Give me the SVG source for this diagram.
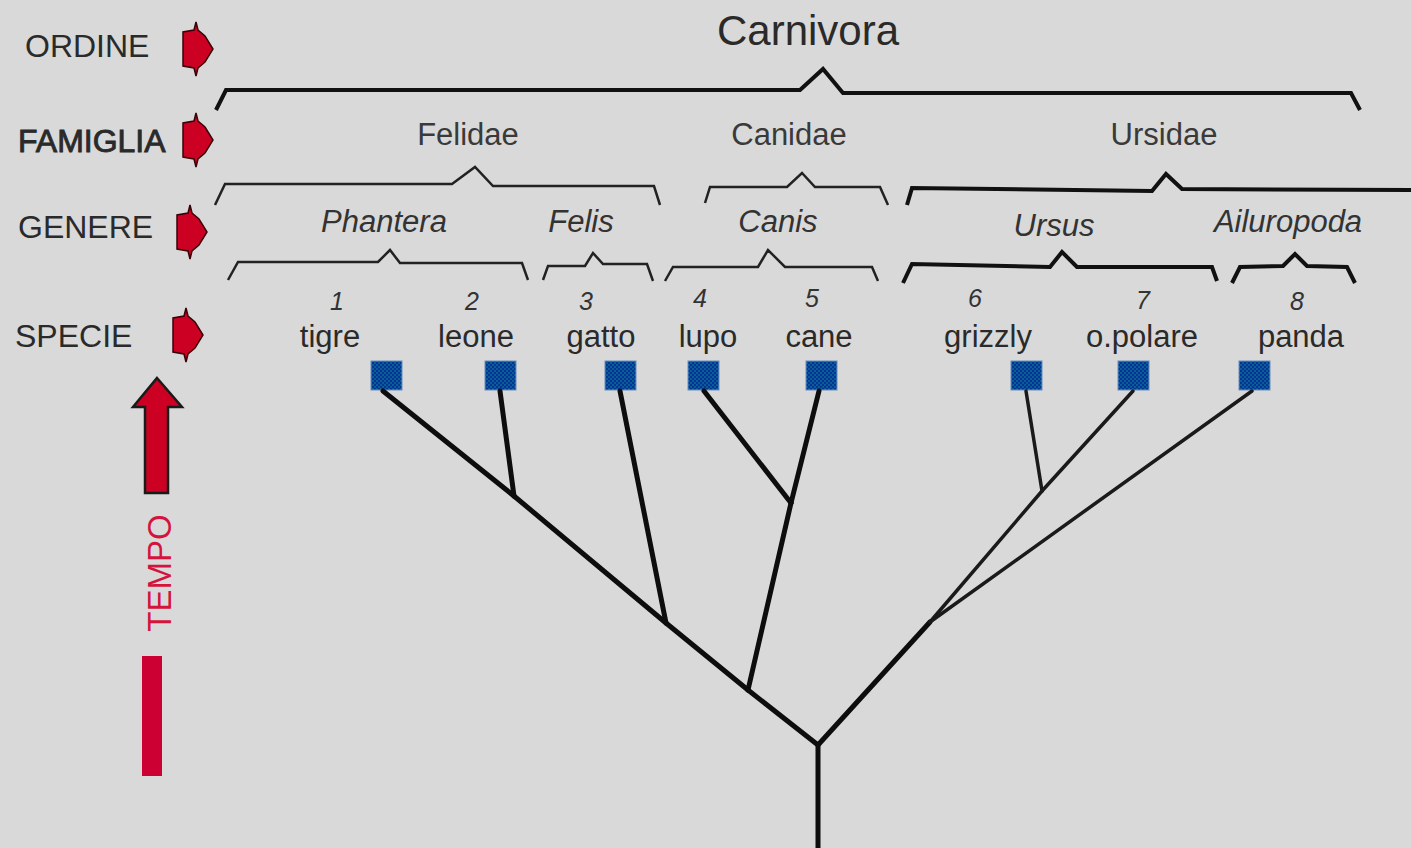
<svg xmlns="http://www.w3.org/2000/svg" width="1411" height="848" viewBox="0 0 1411 848">
<defs>
<style>
.lbl{font-family:"Liberation Sans",Arial,sans-serif;font-size:32px;fill:#2a2a2a}
.top{font-family:"Liberation Sans",Arial,sans-serif;font-size:42px;fill:#2a2a2a;text-anchor:middle}
.fam{font-family:"Liberation Sans",Arial,sans-serif;font-size:31px;fill:#3a3a3a;text-anchor:middle}
.gen{font-family:"Liberation Sans",Arial,sans-serif;font-size:31px;font-style:italic;fill:#333;text-anchor:middle}
.num{font-family:"Liberation Sans",Arial,sans-serif;font-size:25px;font-style:italic;fill:#333;text-anchor:middle}
.sp{font-family:"Liberation Sans",Arial,sans-serif;font-size:31px;fill:#2a2a2a;text-anchor:middle}
.br{fill:none;stroke:#222;stroke-width:2.5;stroke-linejoin:miter}
.brk{fill:none;stroke:#111;stroke-width:4;stroke-linejoin:miter}
.edge{fill:none;stroke:#0d0d0d;stroke-width:5;stroke-linecap:round}
.edge2{fill:none;stroke:#1a1a1a;stroke-width:3.5;stroke-linecap:round}
.mk{fill:#cc0022;stroke:#3a0008;stroke-width:1.5}
.leaf{fill:url(#chk);stroke:#6a8fc0;stroke-width:1}
</style>
<pattern id="chk" patternUnits="userSpaceOnUse" width="4" height="4">
<rect width="4" height="4" fill="#013399"/>
<rect width="2" height="2" fill="#0b5e92"/>
<rect x="2" y="2" width="2" height="2" fill="#0b5e92"/>
</pattern>
<path id="tri" d="M0,-27 L2,-19 L9,-13 L17,0 L9,13 L2,19 L0,27 L-2,19 L-13,17 L-13,-17 L-2,-19 Z"/>
</defs>
<rect width="1411" height="848" fill="#d9d9d9"/>

<g id="rank-labels">
<text class="lbl" x="25" y="57">ORDINE</text>
<text class="lbl" x="18" y="152" style="stroke:#2a2a2a;stroke-width:0.9">FAMIGLIA</text>
<text class="lbl" x="18" y="238">GENERE</text>
<text class="lbl" x="15" y="347">SPECIE</text>
<use href="#tri" class="mk" x="196" y="49"/>
<use href="#tri" class="mk" x="196" y="140"/>
<use href="#tri" class="mk" x="190" y="232"/>
<use href="#tri" class="mk" x="186" y="335"/>
</g>

<g id="tempo">
<polygon points="157,378 182,407 168,407 168,493 145,493 145,407 133,407" fill="#cc0022" stroke="#1a1a1a" stroke-width="2.5"/>
<text transform="translate(171,573) rotate(-90)" style="font-family:'Liberation Sans',Arial,sans-serif;font-size:33px;fill:#d4143c;text-anchor:middle">TEMPO</text>
<rect x="142" y="656" width="20" height="120" fill="#cc0033"/>
</g>

<g id="ordine">
<text class="top" x="808" y="45">Carnivora</text>
<polyline class="brk" points="216,110 226,90 800,90 823,69 843,93 1351,93 1360,110"/>
</g>

<g id="famiglie">
<text class="fam" x="468" y="145">Felidae</text>
<polyline class="br" points="215,205 225,184 452,184 475,167 493,186 654,186 660,205"/>
<text class="fam" x="789" y="145">Canidae</text>
<polyline class="br" points="705,203 710,187 787,187 802,173 815,187 880,187 888,205"/>
<text class="fam" x="1164" y="145">Ursidae</text>
<polyline class="brk" points="907,205 912,188 1152,191 1166,174 1182,189 1411,190"/>
</g>

<g id="generi">
<text class="gen" x="384" y="232">Phantera</text>
<polyline class="br" points="228,280 238,262 378,262 390,250 400,263 522,263 528,280"/>
<text class="gen" x="581" y="232">Felis</text>
<polyline class="br" points="543,280 548,266 585,266 593,253 603,264 647,264 653,281"/>
<text class="gen" x="778" y="232">Canis</text>
<polyline class="br" points="665,281 673,267 758,267 768,250 785,267 872,267 878,281"/>
<text class="gen" x="1054" y="236">Ursus</text>
<polyline class="brk" points="903,283 912,264 1050,267 1062,252 1077,267 1212,267 1217,281"/>
<text class="gen" x="1288" y="232">Ailuropoda</text>
<polyline class="brk" points="1232,283 1240,267 1283,266 1295,254 1307,266 1347,267 1355,283"/>
</g>

<g id="specie">
<g id="sp1"><text class="num" x="337" y="310">1</text><text class="sp" x="330" y="347">tigre</text><rect class="leaf" x="371" y="361" width="31" height="29"/></g>
<g id="sp2"><text class="num" x="472" y="310">2</text><text class="sp" x="476" y="347">leone</text><rect class="leaf" x="485" y="361" width="31" height="29"/></g>
<g id="sp3"><text class="num" x="586" y="310">3</text><text class="sp" x="601" y="347">gatto</text><rect class="leaf" x="605" y="361" width="31" height="29"/></g>
<g id="sp4"><text class="num" x="700" y="307">4</text><text class="sp" x="708" y="347">lupo</text><rect class="leaf" x="688" y="361" width="31" height="29"/></g>
<g id="sp5"><text class="num" x="812" y="307">5</text><text class="sp" x="819" y="347">cane</text><rect class="leaf" x="806" y="361" width="31" height="29"/></g>
<g id="sp6"><text class="num" x="975" y="307">6</text><text class="sp" x="988" y="347">grizzly</text><rect class="leaf" x="1011" y="361" width="31" height="29"/></g>
<g id="sp7"><text class="num" x="1143" y="309">7</text><text class="sp" x="1142" y="347">o.polare</text><rect class="leaf" x="1118" y="361" width="31" height="29"/></g>
<g id="sp8"><text class="num" x="1297" y="310">8</text><text class="sp" x="1301" y="347">panda</text><rect class="leaf" x="1239" y="361" width="31" height="29"/></g>
</g>

<g id="connectors">
<line class="edge" x1="383" y1="391" x2="514" y2="496"/>
<line class="edge" x1="500" y1="391" x2="514" y2="496"/>
<line class="edge" x1="514" y1="496" x2="666" y2="623"/>
<line class="edge" x1="620" y1="391" x2="666" y2="623"/>
<line class="edge" x1="666" y1="623" x2="748" y2="690"/>
<line class="edge" x1="704" y1="391" x2="791" y2="503"/>
<line class="edge" x1="819" y1="391" x2="791" y2="503"/>
<line class="edge" x1="791" y1="503" x2="748" y2="690"/>
<line class="edge" x1="748" y1="690" x2="818" y2="745"/>
<line class="edge" x1="818" y1="745" x2="818" y2="848"/>
<line class="edge" x1="818" y1="745" x2="930" y2="622"/>
<line class="edge2" x1="930" y1="622" x2="1042" y2="491"/>
<line class="edge2" x1="930" y1="622" x2="1252" y2="391"/>
<line class="edge2" x1="1026" y1="391" x2="1042" y2="491"/>
<line class="edge2" x1="1133" y1="391" x2="1042" y2="491"/>
</g>
</svg>
